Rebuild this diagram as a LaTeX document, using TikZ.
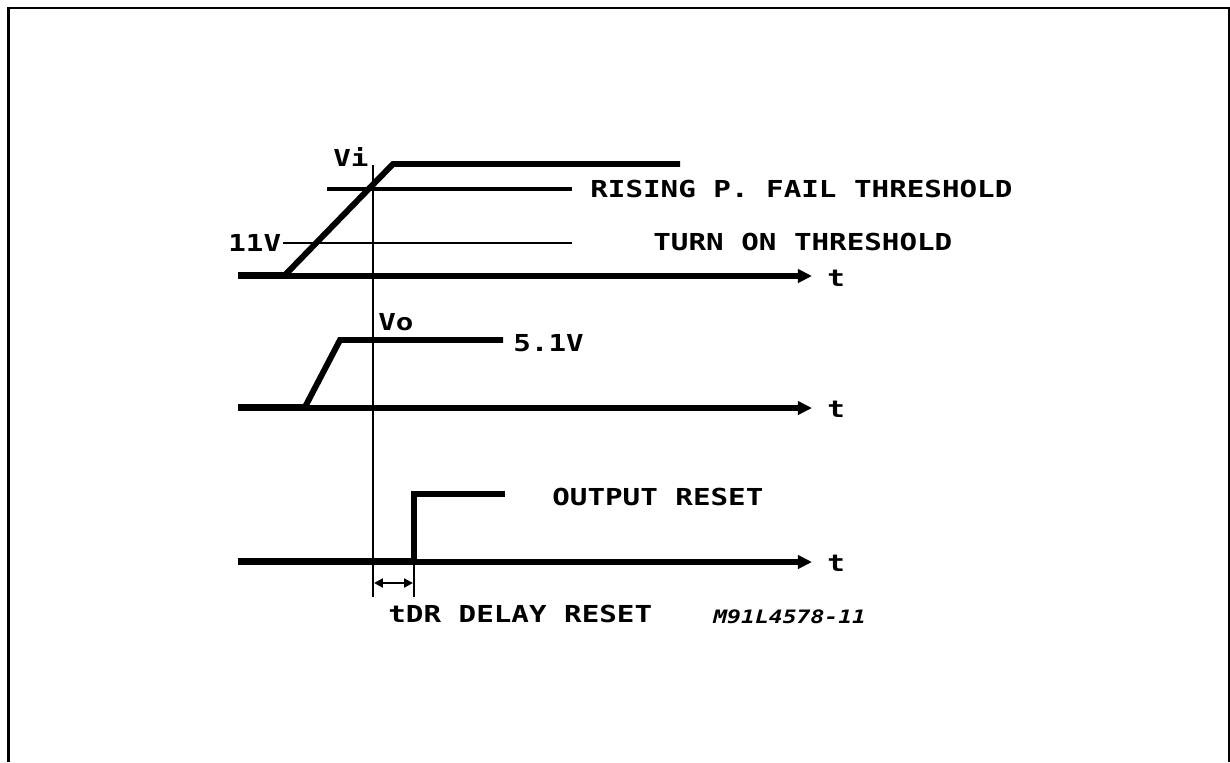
\documentclass[tikz,border=0pt]{standalone}
\usepackage{fontspec}
\setmonofont{DejaVu Sans Mono}
\usepackage{graphicx}
\usetikzlibrary{arrows.meta}
\newcommand{\wide}[1]{\scalebox{1.25}[1]{#1}}
\tikzset{
  signal/.style={line width=3.4pt, line join=miter},
  axis/.style={line width=2.9pt, -{Triangle[length=8pt,width=7.5pt]}},
  level/.style={line width=2.2pt},
  thinline/.style={line width=1.6pt},
  dimarrow/.style={line width=1.6pt, {Triangle[length=5pt,width=5pt]}-{Triangle[length=5pt,width=5pt]}},
  lbl/.style={anchor=west, inner sep=0pt, font=\fontsize{13.3}{14}\ttfamily\bfseries},
  codelbl/.style={anchor=west, inner sep=0pt, font=\fontsize{10.5}{12}\ttfamily\bfseries\itshape},
}

\begin{document}
\begin{tikzpicture}[x=0.02cm, y=-0.02cm]
  \useasboundingbox (0,0) rectangle (1230,762);
  % Frame (open at the bottom)
  \draw[line width=1.4pt] (8.5,762) -- (8.5,8) -- (1229,8) -- (1229,762);

  % Common time marker
  \draw[thinline] (373,165) -- (373,597);

  % Input voltage Vi
  \draw[axis] (238,276) -- (812,276);
  \draw[signal] (238,275) -- (285,275) -- (393,164) -- (680,164);
  \draw[level] (327,189) -- (572,189);
  \draw[thinline] (283,243) -- (572,243);
  \node[lbl] (vi) at (333,157) {\wide{Vi}};
  \node[lbl] (v11) at (228,243) {\wide{11V}};
  \node[lbl] (rise) at (590,189) {\wide{RISING P. FAIL THRESHOLD}};
  \node[lbl] (turnon) at (653,242) {\wide{TURN ON THRESHOLD}};
  \node[lbl] (t1) at (827,278) {\wide{t}};

  % Output voltage Vo
  \draw[axis] (238,408) -- (812,408);
  \draw[signal] (238,407) -- (305,407) -- (340,340) -- (503,340);
  \node[lbl] (vo) at (378,322) {\wide{Vo}};
  \node[lbl] (v51) at (513,343) {\wide{5.1V}};
  \node[lbl] (t2) at (827,409) {\wide{t}};

  % Reset output
  \draw[axis] (238,562) -- (812,562);
  \draw[signal] (238,561) -- (414,561) -- (414,494) -- (505,494);
  \node[lbl] (reset) at (552,497) {\wide{OUTPUT RESET}};
  \node[lbl] (t3) at (827,563) {\wide{t}};

  % Reset delay
  \draw[line width=1.2pt] (414,562) -- (414,597);
  \draw[dimarrow] (374,583) -- (413,583);
  \node[lbl] (tdr) at (388,614) {\wide{tDR DELAY RESET}};
  \node[codelbl] (code) at (713,617) {\wide{M91L4578-11}};
\end{tikzpicture}
\end{document}
